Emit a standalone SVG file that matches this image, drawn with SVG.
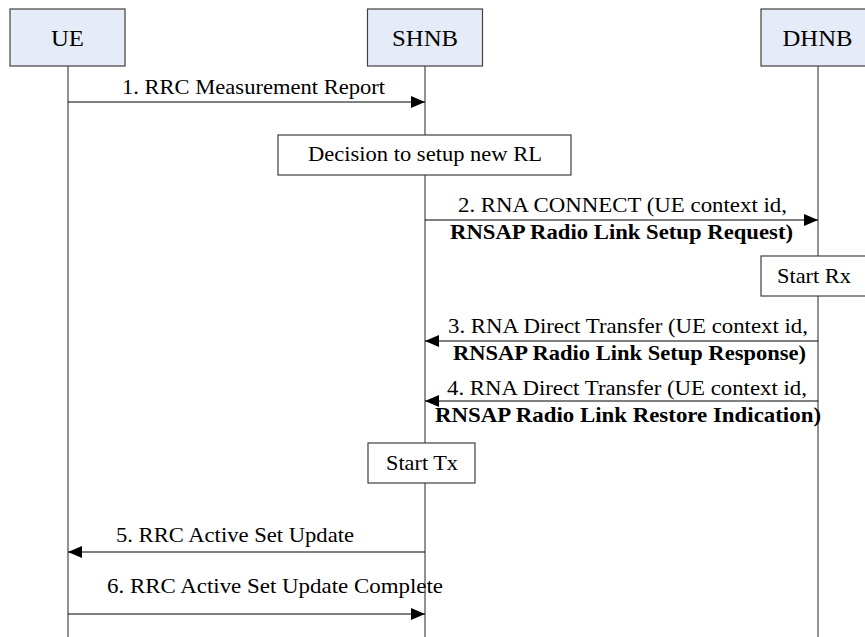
<svg xmlns="http://www.w3.org/2000/svg" width="865" height="637" viewBox="0 0 865 637">
<style>
  .actor { fill: #e6ecf7; stroke: #404040; stroke-width: 1.2; }
  .box { fill: #ffffff; stroke: #404040; stroke-width: 1.2; }
  .life { stroke: #6e6e6e; stroke-width: 1.5; fill: none; }
  .msg { stroke: #000000; stroke-width: 1; fill: none; }
  text { font-family: "Liberation Serif", "Times New Roman", serif; fill: #000000; }
  .title { font-size: 23px; text-anchor: middle; }
  .lbl { font-size: 21px; }
  .b { font-weight: bold; }
</style>
<defs>
  <marker id="ah" viewBox="0 0 14 12" refX="14" refY="6" markerWidth="14" markerHeight="12" markerUnits="userSpaceOnUse" orient="auto">
    <path d="M0,0 L14,6 L0,12 Z" fill="#000000"/>
  </marker>
</defs>
<rect width="865" height="637" fill="#ffffff"/>
<g id="lifelines">
  <line class="life" x1="68" y1="66" x2="68" y2="637"/>
  <line class="life" x1="425" y1="66" x2="425" y2="637"/>
  <line class="life" x1="818" y1="66" x2="818" y2="637"/>
</g>
<g id="UE">
  <rect class="actor" x="10" y="9" width="115" height="57"/>
  <text class="title" x="67.5" y="46" textLength="33" lengthAdjust="spacingAndGlyphs">UE</text>
</g>
<g id="SHNB">
  <rect class="actor" x="367.5" y="9" width="115" height="57"/>
  <text class="title" x="425" y="46" textLength="66" lengthAdjust="spacingAndGlyphs">SHNB</text>
</g>
<g id="DHNB">
  <rect class="actor" x="761" y="9" width="115" height="57"/>
  <text class="title" x="817.5" y="46" textLength="70" lengthAdjust="spacingAndGlyphs">DHNB</text>
</g>
<g id="decision">
  <rect class="box" x="278" y="135" width="293" height="40"/>
  <text class="lbl" x="308" y="161" textLength="234" lengthAdjust="spacingAndGlyphs">Decision to setup new RL</text>
</g>
<g id="startRx">
  <rect class="box" x="761" y="256" width="115" height="40"/>
  <text class="lbl" x="777" y="283" textLength="74" lengthAdjust="spacingAndGlyphs">Start Rx</text>
</g>
<g id="startTx">
  <rect class="box" x="368" y="443" width="107" height="40"/>
  <text class="lbl" x="386" y="470" textLength="72" lengthAdjust="spacingAndGlyphs">Start Tx</text>
</g>
<g id="connectors">
  <line class="msg" x1="68" y1="102" x2="425" y2="102" marker-end="url(#ah)"/>
  <line class="msg" x1="425" y1="220" x2="818" y2="220" marker-end="url(#ah)"/>
  <line class="msg" x1="818" y1="341" x2="425" y2="341" marker-end="url(#ah)"/>
  <line class="msg" x1="818" y1="401" x2="425" y2="401" marker-end="url(#ah)"/>
  <line class="msg" x1="425" y1="552" x2="68" y2="552" marker-end="url(#ah)"/>
  <line class="msg" x1="68" y1="614" x2="425" y2="614" marker-end="url(#ah)"/>
</g>
<g id="labels">
  <text class="lbl" x="122" y="94" textLength="263" lengthAdjust="spacingAndGlyphs">1. RRC Measurement Report</text>
  <text class="lbl" x="458" y="212" textLength="329" lengthAdjust="spacingAndGlyphs">2. RNA CONNECT (UE context id,</text>
  <text class="lbl b" x="450" y="239" textLength="343" lengthAdjust="spacingAndGlyphs">RNSAP Radio Link Setup Request)</text>
  <text class="lbl" x="448" y="333" textLength="360" lengthAdjust="spacingAndGlyphs">3. RNA Direct Transfer (UE context id,</text>
  <text class="lbl b" x="453" y="360" textLength="353" lengthAdjust="spacingAndGlyphs">RNSAP Radio Link Setup Response)</text>
  <text class="lbl" x="447" y="395" textLength="360" lengthAdjust="spacingAndGlyphs">4. RNA Direct Transfer (UE context id,</text>
  <text class="lbl b" x="435" y="422" textLength="386" lengthAdjust="spacingAndGlyphs">RNSAP Radio Link Restore Indication)</text>
  <text class="lbl" x="116" y="542" textLength="238" lengthAdjust="spacingAndGlyphs">5. RRC Active Set Update</text>
  <text class="lbl" x="107" y="593" textLength="336" lengthAdjust="spacingAndGlyphs">6. RRC Active Set Update Complete</text>
</g>
</svg>
